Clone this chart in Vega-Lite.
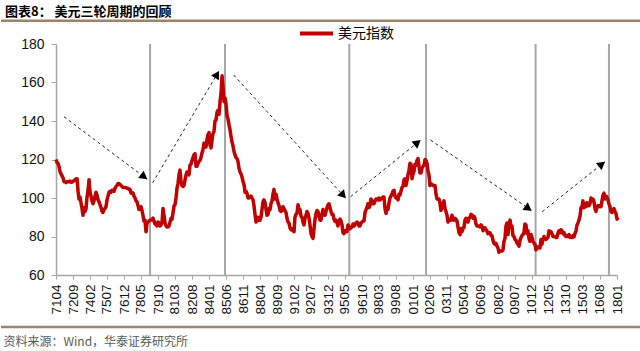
{
"$schema":"https://vega.github.io/schema/vega-lite/v6.json",
"autosize":"none",
"width":561,"height":231,
"padding":{"left":56,"top":44,"right":23,"bottom":76},
"background":"#ffffff",
"config":{"view":{"stroke":null},"font":"Liberation Sans"},
"title":{"text":"图表8：  美元三轮周期的回顾","anchor":"start","frame":"group","dx":-51,"offset":-4,"fontSize":13,"fontWeight":"bold","font":"Noto Sans CJK SC","color":"#000000"},
"datasets":{
"cyc":[{"d":"1979-02-01","v":60,"v2":180},{"d":"1985-05-01","v":60,"v2":180},{"d":"1995-09-10","v":60,"v2":180},{"d":"2002-02-01","v":60,"v2":180},{"d":"2011-03-21","v":60,"v2":180},{"d":"2017-05-01","v":60,"v2":180}],
"arr":[
{"d":"1971-12-01","v":142.2,"d2":"1978-11-10","v2":109.7},
{"d":"1979-04-21","v":107.9,"d2":"1984-11-01","v2":166},
{"d":"1986-01-21","v":163.9,"d2":"1995-06-01","v2":99.8},
{"d":"1995-10-21","v":100.7,"d2":"2001-08-21","v2":130.1},
{"d":"2002-06-21","v":130.1,"d2":"2010-11-21","v2":93.4},
{"d":"2011-10-10","v":92.9,"d2":"2017-01-01","v2":118.9}],
"head":[
{"d":"1978-08-04","v":111.0,"a":126.9},
{"d":"1984-09-01","v":164.2,"a":30.7},
{"d":"1995-03-10","v":101.4,"a":137.4},
{"d":"2001-05-19","v":128.8,"a":51},
{"d":"2010-08-13","v":94.6,"a":125},
{"d":"2016-09-28","v":117.6,"a":51.4}],
"sep":[{"d":"1966-09-01","d2":"2019-12-01","v":192.1},{"d":"1966-09-01","d2":"2019-12-01","v":33}],
"dxy":[
{"d":"1971-04","v":120.0},{"d":"1971-05","v":118.5},{"d":"1971-06","v":118.0},{"d":"1971-07","v":116.5},{"d":"1971-08","v":113.5},{"d":"1971-09","v":112.5},{"d":"1971-10","v":111.5},{"d":"1971-11","v":110.5},{"d":"1971-12","v":108.5},
{"d":"1972-01","v":108.5},{"d":"1972-02","v":108.0},{"d":"1972-03","v":108.5},{"d":"1972-04","v":108.5},{"d":"1972-05","v":108.5},{"d":"1972-06","v":108.8},{"d":"1972-07","v":108.2},{"d":"1972-08","v":108.3},{"d":"1972-09","v":108.7},{"d":"1972-10","v":109.0},{"d":"1972-11","v":109.5},{"d":"1972-12","v":110.0},
{"d":"1973-01","v":110.0},{"d":"1973-02","v":103.5},{"d":"1973-03","v":99.5},{"d":"1973-04","v":100.5},{"d":"1973-05","v":97.5},{"d":"1973-06","v":94.5},{"d":"1973-07","v":91.0},{"d":"1973-08","v":95.0},{"d":"1973-09","v":93.0},{"d":"1973-10","v":94.5},{"d":"1973-11","v":100.5},{"d":"1973-12","v":104.0},
{"d":"1974-01","v":109.5},{"d":"1974-02","v":103.0},{"d":"1974-03","v":101.0},{"d":"1974-04","v":98.5},{"d":"1974-05","v":97.0},{"d":"1974-06","v":98.5},{"d":"1974-07","v":101.0},{"d":"1974-08","v":103.0},{"d":"1974-09","v":101.5},{"d":"1974-10","v":99.0},{"d":"1974-11","v":98.0},{"d":"1974-12","v":96.5},
{"d":"1975-01","v":95.0},{"d":"1975-02","v":93.0},{"d":"1975-03","v":92.5},{"d":"1975-04","v":94.0},{"d":"1975-05","v":94.5},{"d":"1975-06","v":95.5},{"d":"1975-07","v":99.0},{"d":"1975-08","v":101.0},{"d":"1975-09","v":103.0},{"d":"1975-10","v":103.5},{"d":"1975-11","v":103.0},{"d":"1975-12","v":104.0},
{"d":"1976-01","v":104.0},{"d":"1976-02","v":103.5},{"d":"1976-03","v":105.0},{"d":"1976-04","v":106.0},{"d":"1976-05","v":106.5},{"d":"1976-06","v":107.5},{"d":"1976-07","v":107.5},{"d":"1976-08","v":107.0},{"d":"1976-09","v":106.5},{"d":"1976-10","v":106.0},{"d":"1976-11","v":105.5},{"d":"1976-12","v":105.5},
{"d":"1977-01","v":105.5},{"d":"1977-02","v":105.5},{"d":"1977-03","v":105.0},{"d":"1977-04","v":105.0},{"d":"1977-05","v":104.5},{"d":"1977-06","v":104.5},{"d":"1977-07","v":102.5},{"d":"1977-08","v":103.0},{"d":"1977-09","v":102.5},{"d":"1977-10","v":101.0},{"d":"1977-11","v":100.0},{"d":"1977-12","v":98.5},
{"d":"1978-01","v":98.0},{"d":"1978-02","v":96.0},{"d":"1978-03","v":94.0},{"d":"1978-04","v":95.0},{"d":"1978-05","v":95.5},{"d":"1978-06","v":93.5},{"d":"1978-07","v":91.0},{"d":"1978-08","v":88.0},{"d":"1978-09","v":88.5},{"d":"1978-10","v":82.5},{"d":"1978-11","v":87.0},{"d":"1978-12","v":87.5},
{"d":"1979-01","v":88.0},{"d":"1979-02","v":88.5},{"d":"1979-03","v":88.5},{"d":"1979-04","v":89.0},{"d":"1979-05","v":89.5},{"d":"1979-06","v":88.0},{"d":"1979-07","v":86.5},{"d":"1979-08","v":87.0},{"d":"1979-09","v":85.5},{"d":"1979-10","v":87.5},{"d":"1979-11","v":87.0},{"d":"1979-12","v":85.5},
{"d":"1980-01","v":86.0},{"d":"1980-02","v":87.5},{"d":"1980-03","v":94.5},{"d":"1980-04","v":91.0},{"d":"1980-05","v":87.0},{"d":"1980-06","v":85.5},{"d":"1980-07","v":85.0},{"d":"1980-08","v":85.0},{"d":"1980-09","v":85.5},{"d":"1980-10","v":87.5},{"d":"1980-11","v":89.5},{"d":"1980-12","v":89.0},
{"d":"1981-01","v":92.5},{"d":"1981-02","v":96.0},{"d":"1981-03","v":96.5},{"d":"1981-04","v":100.0},{"d":"1981-05","v":105.0},{"d":"1981-06","v":107.5},{"d":"1981-07","v":112.0},{"d":"1981-08","v":114.5},{"d":"1981-09","v":108.5},{"d":"1981-10","v":106.5},{"d":"1981-11","v":106.0},{"d":"1981-12","v":106.5},
{"d":"1982-01","v":109.5},{"d":"1982-02","v":112.0},{"d":"1982-03","v":113.5},{"d":"1982-04","v":113.0},{"d":"1982-05","v":112.0},{"d":"1982-06","v":117.0},{"d":"1982-07","v":117.5},{"d":"1982-08","v":119.5},{"d":"1982-09","v":121.0},{"d":"1982-10","v":122.5},{"d":"1982-11","v":123.0},{"d":"1982-12","v":116.5},
{"d":"1983-01","v":116.5},{"d":"1983-02","v":118.0},{"d":"1983-03","v":119.0},{"d":"1983-04","v":119.5},{"d":"1983-05","v":121.0},{"d":"1983-06","v":123.5},{"d":"1983-07","v":125.0},{"d":"1983-08","v":128.5},{"d":"1983-09","v":126.5},{"d":"1983-10","v":126.5},{"d":"1983-11","v":130.5},{"d":"1983-12","v":133.0},
{"d":"1984-01","v":134.0},{"d":"1984-02","v":127.5},{"d":"1984-03","v":126.0},{"d":"1984-04","v":130.0},{"d":"1984-05","v":133.5},{"d":"1984-06","v":134.5},{"d":"1984-07","v":140.0},{"d":"1984-08","v":140.5},{"d":"1984-09","v":144.5},{"d":"1984-10","v":145.5},{"d":"1984-11","v":143.5},{"d":"1984-12","v":150.0},
{"d":"1985-01","v":154.5},{"d":"1985-02","v":163.5},{"d":"1985-03","v":158.0},{"d":"1985-04","v":150.0},{"d":"1985-05","v":152.0},{"d":"1985-06","v":149.0},{"d":"1985-07","v":143.0},{"d":"1985-08","v":141.0},{"d":"1985-09","v":138.0},{"d":"1985-10","v":135.5},{"d":"1985-11","v":132.0},{"d":"1985-12","v":129.0},
{"d":"1986-01","v":127.0},{"d":"1986-02","v":124.0},{"d":"1986-03","v":122.5},{"d":"1986-04","v":121.0},{"d":"1986-05","v":120.5},{"d":"1986-06","v":119.0},{"d":"1986-07","v":115.5},{"d":"1986-08","v":113.5},{"d":"1986-09","v":112.5},{"d":"1986-10","v":111.0},{"d":"1986-11","v":108.5},{"d":"1986-12","v":107.0},
{"d":"1987-01","v":103.0},{"d":"1987-02","v":103.5},{"d":"1987-03","v":102.5},{"d":"1987-04","v":100.0},{"d":"1987-05","v":100.0},{"d":"1987-06","v":100.5},{"d":"1987-07","v":101.0},{"d":"1987-08","v":100.0},{"d":"1987-09","v":99.0},{"d":"1987-10","v":96.0},{"d":"1987-11","v":91.5},{"d":"1987-12","v":87.5},
{"d":"1988-01","v":89.0},{"d":"1988-02","v":90.0},{"d":"1988-03","v":88.5},{"d":"1988-04","v":88.5},{"d":"1988-05","v":90.0},{"d":"1988-06","v":94.0},{"d":"1988-07","v":98.0},{"d":"1988-08","v":99.0},{"d":"1988-09","v":97.5},{"d":"1988-10","v":94.0},{"d":"1988-11","v":91.0},{"d":"1988-12","v":91.5},
{"d":"1989-01","v":94.5},{"d":"1989-02","v":94.0},{"d":"1989-03","v":97.0},{"d":"1989-04","v":98.5},{"d":"1989-05","v":102.0},{"d":"1989-06","v":104.5},{"d":"1989-07","v":99.5},{"d":"1989-08","v":102.0},{"d":"1989-09","v":99.5},{"d":"1989-10","v":97.5},{"d":"1989-11","v":96.0},{"d":"1989-12","v":93.5},
{"d":"1990-01","v":93.0},{"d":"1990-02","v":93.5},{"d":"1990-03","v":95.5},{"d":"1990-04","v":94.5},{"d":"1990-05","v":93.5},{"d":"1990-06","v":92.5},{"d":"1990-07","v":89.5},{"d":"1990-08","v":87.5},{"d":"1990-09","v":87.0},{"d":"1990-10","v":84.5},{"d":"1990-11","v":83.5},{"d":"1990-12","v":84.0},
{"d":"1991-01","v":83.0},{"d":"1991-02","v":82.5},{"d":"1991-03","v":90.0},{"d":"1991-04","v":91.5},{"d":"1991-05","v":92.0},{"d":"1991-06","v":96.5},{"d":"1991-07","v":94.5},{"d":"1991-08","v":94.0},{"d":"1991-09","v":90.5},{"d":"1991-10","v":90.0},{"d":"1991-11","v":87.5},{"d":"1991-12","v":86.0},
{"d":"1992-01","v":89.5},{"d":"1992-02","v":91.0},{"d":"1992-03","v":93.0},{"d":"1992-04","v":92.0},{"d":"1992-05","v":89.5},{"d":"1992-06","v":86.0},{"d":"1992-07","v":81.5},{"d":"1992-08","v":80.0},{"d":"1992-09","v":79.0},{"d":"1992-10","v":84.0},{"d":"1992-11","v":89.0},{"d":"1992-12","v":92.0},
{"d":"1993-01","v":93.5},{"d":"1993-02","v":93.0},{"d":"1993-03","v":90.5},{"d":"1993-04","v":88.5},{"d":"1993-05","v":88.5},{"d":"1993-06","v":91.5},{"d":"1993-07","v":94.0},{"d":"1993-08","v":93.0},{"d":"1993-09","v":91.0},{"d":"1993-10","v":93.0},{"d":"1993-11","v":95.0},{"d":"1993-12","v":96.5},
{"d":"1994-01","v":97.0},{"d":"1994-02","v":95.0},{"d":"1994-03","v":93.0},{"d":"1994-04","v":91.5},{"d":"1994-05","v":91.5},{"d":"1994-06","v":89.0},{"d":"1994-07","v":88.0},{"d":"1994-08","v":88.5},{"d":"1994-09","v":87.0},{"d":"1994-10","v":85.5},{"d":"1994-11","v":88.0},{"d":"1994-12","v":89.0},
{"d":"1995-01","v":88.0},{"d":"1995-02","v":86.0},{"d":"1995-03","v":82.0},{"d":"1995-04","v":81.5},{"d":"1995-05","v":83.0},{"d":"1995-06","v":82.5},{"d":"1995-07","v":82.5},{"d":"1995-08","v":86.0},{"d":"1995-09","v":85.0},{"d":"1995-10","v":84.0},{"d":"1995-11","v":84.5},{"d":"1995-12","v":85.0},
{"d":"1996-01","v":86.5},{"d":"1996-02","v":85.5},{"d":"1996-03","v":86.0},{"d":"1996-04","v":87.0},{"d":"1996-05","v":87.5},{"d":"1996-06","v":87.0},{"d":"1996-07","v":85.5},{"d":"1996-08","v":85.5},{"d":"1996-09","v":87.0},{"d":"1996-10","v":87.5},{"d":"1996-11","v":88.0},{"d":"1996-12","v":88.0},
{"d":"1997-01","v":92.5},{"d":"1997-02","v":94.0},{"d":"1997-03","v":95.0},{"d":"1997-04","v":97.0},{"d":"1997-05","v":95.0},{"d":"1997-06","v":96.0},{"d":"1997-07","v":99.5},{"d":"1997-08","v":98.5},{"d":"1997-09","v":97.0},{"d":"1997-10","v":97.0},{"d":"1997-11","v":98.5},{"d":"1997-12","v":99.5},
{"d":"1998-01","v":99.5},{"d":"1998-02","v":99.0},{"d":"1998-03","v":100.0},{"d":"1998-04","v":99.0},{"d":"1998-05","v":99.5},{"d":"1998-06","v":100.0},{"d":"1998-07","v":100.5},{"d":"1998-08","v":100.5},{"d":"1998-09","v":94.5},{"d":"1998-10","v":92.0},{"d":"1998-11","v":95.0},{"d":"1998-12","v":94.0},
{"d":"1999-01","v":97.5},{"d":"1999-02","v":100.0},{"d":"1999-03","v":101.0},{"d":"1999-04","v":102.0},{"d":"1999-05","v":103.5},{"d":"1999-06","v":104.0},{"d":"1999-07","v":101.0},{"d":"1999-08","v":100.0},{"d":"1999-09","v":100.5},{"d":"1999-10","v":99.0},{"d":"1999-11","v":102.0},{"d":"1999-12","v":101.5},
{"d":"2000-01","v":103.5},{"d":"2000-02","v":105.5},{"d":"2000-03","v":106.0},{"d":"2000-04","v":109.5},{"d":"2000-05","v":110.0},{"d":"2000-06","v":106.5},{"d":"2000-07","v":109.0},{"d":"2000-08","v":112.0},{"d":"2000-09","v":114.5},{"d":"2000-10","v":118.0},{"d":"2000-11","v":117.5},{"d":"2000-12","v":110.0},
{"d":"2001-01","v":112.5},{"d":"2001-02","v":114.0},{"d":"2001-03","v":117.5},{"d":"2001-04","v":117.0},{"d":"2001-05","v":119.5},{"d":"2001-06","v":120.5},{"d":"2001-07","v":116.5},{"d":"2001-08","v":113.0},{"d":"2001-09","v":113.0},{"d":"2001-10","v":115.5},{"d":"2001-11","v":116.5},{"d":"2001-12","v":117.0},
{"d":"2002-01","v":120.0},{"d":"2002-02","v":119.5},{"d":"2002-03","v":118.0},{"d":"2002-04","v":114.0},{"d":"2002-05","v":112.0},{"d":"2002-06","v":106.5},{"d":"2002-07","v":107.5},{"d":"2002-08","v":107.0},{"d":"2002-09","v":106.5},{"d":"2002-10","v":106.5},{"d":"2002-11","v":106.5},{"d":"2002-12","v":102.0},
{"d":"2003-01","v":99.5},{"d":"2003-02","v":99.5},{"d":"2003-03","v":99.5},{"d":"2003-04","v":97.5},{"d":"2003-05","v":93.5},{"d":"2003-06","v":95.0},{"d":"2003-07","v":97.0},{"d":"2003-08","v":98.5},{"d":"2003-09","v":94.5},{"d":"2003-10","v":93.0},{"d":"2003-11","v":91.0},{"d":"2003-12","v":87.5},
{"d":"2004-01","v":89.0},{"d":"2004-02","v":88.5},{"d":"2004-03","v":88.5},{"d":"2004-04","v":91.0},{"d":"2004-05","v":89.0},{"d":"2004-06","v":88.5},{"d":"2004-07","v":89.5},{"d":"2004-08","v":89.0},{"d":"2004-09","v":88.0},{"d":"2004-10","v":85.0},{"d":"2004-11","v":82.0},{"d":"2004-12","v":81.0},
{"d":"2005-01","v":84.0},{"d":"2005-02","v":82.5},{"d":"2005-03","v":84.5},{"d":"2005-04","v":84.5},{"d":"2005-05","v":88.5},{"d":"2005-06","v":89.5},{"d":"2005-07","v":89.0},{"d":"2005-08","v":87.5},{"d":"2005-09","v":89.5},{"d":"2005-10","v":90.0},{"d":"2005-11","v":91.5},{"d":"2005-12","v":91.0},
{"d":"2006-01","v":89.5},{"d":"2006-02","v":90.5},{"d":"2006-03","v":89.5},{"d":"2006-04","v":86.5},{"d":"2006-05","v":85.5},{"d":"2006-06","v":85.5},{"d":"2006-07","v":85.5},{"d":"2006-08","v":85.0},{"d":"2006-09","v":86.0},{"d":"2006-10","v":85.5},{"d":"2006-11","v":83.0},{"d":"2006-12","v":83.5},
{"d":"2007-01","v":84.5},{"d":"2007-02","v":83.5},{"d":"2007-03","v":83.0},{"d":"2007-04","v":81.5},{"d":"2007-05","v":82.0},{"d":"2007-06","v":82.0},{"d":"2007-07","v":80.5},{"d":"2007-08","v":80.5},{"d":"2007-09","v":78.0},{"d":"2007-10","v":76.5},{"d":"2007-11","v":76.0},{"d":"2007-12","v":76.5},
{"d":"2008-01","v":75.0},{"d":"2008-02","v":74.0},{"d":"2008-03","v":71.8},{"d":"2008-04","v":72.5},{"d":"2008-05","v":72.5},{"d":"2008-06","v":72.5},{"d":"2008-07","v":73.0},{"d":"2008-08","v":77.5},{"d":"2008-09","v":79.0},{"d":"2008-10","v":85.5},{"d":"2008-11","v":87.0},{"d":"2008-12","v":81.0},
{"d":"2009-01","v":86.0},{"d":"2009-02","v":88.5},{"d":"2009-03","v":85.5},{"d":"2009-04","v":85.5},{"d":"2009-05","v":80.5},{"d":"2009-06","v":80.0},{"d":"2009-07","v":78.5},{"d":"2009-08","v":78.0},{"d":"2009-09","v":76.5},{"d":"2009-10","v":76.0},{"d":"2009-11","v":75.0},{"d":"2009-12","v":78.0},
{"d":"2010-01","v":79.5},{"d":"2010-02","v":80.5},{"d":"2010-03","v":81.0},{"d":"2010-04","v":82.0},{"d":"2010-05","v":86.5},{"d":"2010-06","v":86.0},{"d":"2010-07","v":81.5},{"d":"2010-08","v":83.0},{"d":"2010-09","v":79.0},{"d":"2010-10","v":77.5},{"d":"2010-11","v":81.0},{"d":"2010-12","v":79.5},
{"d":"2011-01","v":77.5},{"d":"2011-02","v":76.5},{"d":"2011-03","v":76.0},{"d":"2011-04","v":73.0},{"d":"2011-05","v":74.5},{"d":"2011-06","v":74.5},{"d":"2011-07","v":74.0},{"d":"2011-08","v":74.0},{"d":"2011-09","v":78.5},{"d":"2011-10","v":76.0},{"d":"2011-11","v":78.5},{"d":"2011-12","v":80.0},
{"d":"2012-01","v":79.0},{"d":"2012-02","v":78.5},{"d":"2012-03","v":79.0},{"d":"2012-04","v":79.5},{"d":"2012-05","v":83.0},{"d":"2012-06","v":82.0},{"d":"2012-07","v":82.5},{"d":"2012-08","v":81.5},{"d":"2012-09","v":80.0},{"d":"2012-10","v":80.0},{"d":"2012-11","v":80.0},{"d":"2012-12","v":79.5},
{"d":"2013-01","v":79.5},{"d":"2013-02","v":82.0},{"d":"2013-03","v":83.0},{"d":"2013-04","v":82.0},{"d":"2013-05","v":83.5},{"d":"2013-06","v":83.0},{"d":"2013-07","v":81.5},{"d":"2013-08","v":82.0},{"d":"2013-09","v":80.5},{"d":"2013-10","v":80.0},{"d":"2013-11","v":80.5},{"d":"2013-12","v":80.0},
{"d":"2014-01","v":81.0},{"d":"2014-02","v":79.5},{"d":"2014-03","v":80.0},{"d":"2014-04","v":79.5},{"d":"2014-05","v":80.5},{"d":"2014-06","v":79.8},{"d":"2014-07","v":81.5},{"d":"2014-08","v":82.8},{"d":"2014-09","v":86.0},{"d":"2014-10","v":87.0},{"d":"2014-11","v":88.5},{"d":"2014-12","v":90.5},
{"d":"2015-01","v":95.0},{"d":"2015-02","v":95.5},{"d":"2015-03","v":98.5},{"d":"2015-04","v":95.0},{"d":"2015-05","v":97.0},{"d":"2015-06","v":95.5},{"d":"2015-07","v":97.5},{"d":"2015-08","v":96.0},{"d":"2015-09","v":96.0},{"d":"2015-10","v":97.0},{"d":"2015-11","v":100.0},{"d":"2015-12","v":98.5},
{"d":"2016-01","v":99.5},{"d":"2016-02","v":98.0},{"d":"2016-03","v":94.5},{"d":"2016-04","v":93.0},{"d":"2016-05","v":95.5},{"d":"2016-06","v":96.0},{"d":"2016-07","v":95.5},{"d":"2016-08","v":96.0},{"d":"2016-09","v":95.5},{"d":"2016-10","v":98.5},{"d":"2016-11","v":101.5},{"d":"2016-12","v":102.5},
{"d":"2017-01","v":99.5},{"d":"2017-02","v":101.0},{"d":"2017-03","v":100.5},{"d":"2017-04","v":99.0},{"d":"2017-05","v":97.0},{"d":"2017-06","v":95.5},{"d":"2017-07","v":93.0},{"d":"2017-08","v":92.5},{"d":"2017-09","v":93.0},{"d":"2017-10","v":94.5},{"d":"2017-11","v":93.0},{"d":"2017-12","v":92.0},
{"d":"2018-01","v":89.0},{"d":"2018-02","v":90.0}
]},
"encoding":{
  "x":{"field":"d","type":"temporal",
   "scale":{"type":"utc","nice":false,"domain":[{"year":1971,"month":4,"date":1,"utc":true},{"year":2018,"month":1,"date":1,"utc":true}]},
   "axis":{"values":[
     {"year":1971,"month":4,"date":1,"utc":true},{"year":1972,"month":9,"date":1,"utc":true},{"year":1974,"month":2,"date":1,"utc":true},{"year":1975,"month":7,"date":1,"utc":true},{"year":1976,"month":12,"date":1,"utc":true},{"year":1978,"month":5,"date":1,"utc":true},{"year":1979,"month":10,"date":1,"utc":true},{"year":1981,"month":3,"date":1,"utc":true},{"year":1982,"month":8,"date":1,"utc":true},{"year":1984,"month":1,"date":1,"utc":true},{"year":1985,"month":6,"date":1,"utc":true},{"year":1986,"month":11,"date":1,"utc":true},{"year":1988,"month":4,"date":1,"utc":true},{"year":1989,"month":9,"date":1,"utc":true},{"year":1991,"month":2,"date":1,"utc":true},{"year":1992,"month":7,"date":1,"utc":true},{"year":1993,"month":12,"date":1,"utc":true},{"year":1995,"month":5,"date":1,"utc":true},{"year":1996,"month":10,"date":1,"utc":true},{"year":1998,"month":3,"date":1,"utc":true},{"year":1999,"month":8,"date":1,"utc":true},{"year":2001,"month":1,"date":1,"utc":true},{"year":2002,"month":6,"date":1,"utc":true},{"year":2003,"month":11,"date":1,"utc":true},{"year":2005,"month":4,"date":1,"utc":true},{"year":2006,"month":9,"date":1,"utc":true},{"year":2008,"month":2,"date":1,"utc":true},{"year":2009,"month":7,"date":1,"utc":true},{"year":2010,"month":12,"date":1,"utc":true},{"year":2012,"month":5,"date":1,"utc":true},{"year":2013,"month":10,"date":1,"utc":true},{"year":2015,"month":3,"date":1,"utc":true},{"year":2016,"month":8,"date":1,"utc":true},{"year":2018,"month":1,"date":1,"utc":true}],
    "labelExpr":"utcFormat(datum.value, '%y%m')","labelAngle":270,"labelFontSize":13.5,"labelFont":"Liberation Sans","labelColor":"#111111",
    "labelPadding":5,"labelOverlap":false,"labelFlush":false,"tickSize":4,"tickColor":"#a6a6a6","domainColor":"#a6a6a6","domainWidth":1.5,"grid":false,
    "title":"资料来源：Wind，华泰证券研究所","titleX":-53,"titleY":66,"titleAlign":"left","titleAngle":0,"titleBaseline":"middle","titleFontSize":12,"titleFontWeight":"normal","titleColor":"#595959","titleFont":"Noto Sans CJK SC"}},
  "y":{"field":"v","type":"quantitative","scale":{"domain":[60,180],"nice":false,"zero":false},
   "axis":{"values":[60,80,100,120,140,160,180],"labelFontSize":14,"labelFont":"Liberation Sans","labelColor":"#111111","labelPadding":7,"tickSize":5,"tickColor":"#a6a6a6","domainColor":"#a6a6a6","domainWidth":1.5,"grid":false,"title":null}}
},
"layer":[
{"data":{"name":"cyc"},
 "mark":{"type":"rule","color":"#a6a6a6","strokeWidth":2},
 "encoding":{"y2":{"field":"v2"}}},
{"data":{"name":"dxy"},
 "mark":{"type":"line","strokeWidth":3.5,"strokeJoin":"round","interpolate":"linear"},
 "encoding":{
  "color":{"datum":"美元指数","type":"nominal","scale":{"range":["#c00000"]},
   "legend":{"orient":"none","legendX":242,"legendY":-29,"title":null,"symbolType":"stroke","symbolSize":1089,"symbolStrokeWidth":4,"symbolStrokeColor":"#a8141c","labelFontSize":14,"labelFont":"Noto Sans CJK SC","labelColor":"#000000","labelOffset":3,"padding":0}}}},
{"data":{"name":"arr"},
 "mark":{"type":"rule","strokeDash":[3,3],"color":"#222222","strokeWidth":1},
 "encoding":{"x2":{"field":"d2"},"y2":{"field":"v2"}}},
{"data":{"name":"head"},
 "mark":{"type":"point","shape":"triangle-up","filled":true,"color":"#000000","size":85,"opacity":1},
 "encoding":{"angle":{"field":"a","type":"quantitative","scale":null}}},
{"data":{"name":"sep"},
 "mark":{"type":"rule","color":"#9a8470","strokeWidth":2.5},
 "encoding":{"x2":{"field":"d2"}}}
]
}
